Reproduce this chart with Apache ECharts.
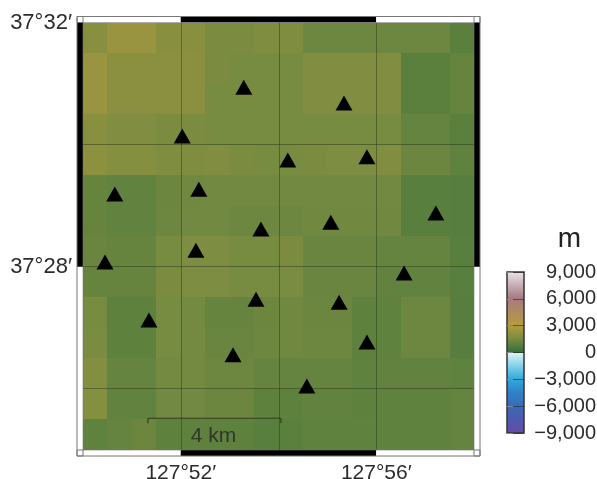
<!DOCTYPE html>
<html><head><meta charset="utf-8">
<style>html,body{margin:0;padding:0;background:#fff}#c{width:597px;height:479px}</style>
<script src="https://cdn.jsdelivr.net/npm/echarts@6/dist/echarts.min.js"></script>
</head><body><div id="c"></div>
<script>
// longitude minutes past 127°, latitude minutes past 37°
const lonStart = 50, lonEnd = 58, latStart = 25, latEnd = 32, cellSize = 0.5;
const lonLabels = [52, 56];
const latLabels = [28, 32];
const gridLons = [52, 54, 56];
const gridLats = [26, 28, 30];
// elevation per cell, north to south, west to east (m)
const row00 = [1900,2300,2300,1900,1900,1600,1600,1700,1700,1300,1300,1300,1300,1300,1300, 900];
const row01 = [2300,1950,1950,1950,1950,1600,1500,1500,1500,1750,1750,1750,1750, 900, 900,1150];
const row02 = [2300,1950,1950,1950,1950,1500,1500,1500,1500,1750,1750,1750,1750, 900, 900,1150];
const row03 = [1900,1750,1750,1600,1600,1500,1500,1500,1500,1500,1500,1500,1500,1100,1100, 900];
const row04 = [2000,1850,1850,1700,1700,1750,1600,1500,1500,1600,1650,1650,1750,1250,1250,1000];
const row05 = [1150,1050,1050,1250,1350,1400,1400,1400,1400,1400,1400,1400,1400, 850, 850, 800];
const row06 = [1150,1050,1050,1300,1400,1400,1300,1300,1300,1350,1350,1350,1350, 850, 850, 800];
const row07 = [1200,1150,1150,1500,1650,1650,1500,1500,1600,1200,1200,1200,1100,1100,1100, 850];
const row08 = [1150,1150,1150,1600,1650,1650,1500,1500,1550,1200,1200,1200,1050,1050,1050, 850];
const row09 = [1500, 950, 950,1500,1450,1150,1150,1250,1350,1250,1250, 950,1000,1300,1300, 800];
const row10 = [1550, 950, 950,1500,1450,1200,1200,1300,1350,1300,1300, 950,1000,1300,1300, 800];
const row11 = [1800,1100,1100,1450,1450,1300,1300,1100,1100,1100,1100,1000,1050,1050,1050,1000];
const row12 = [1850,1050,1050,1400,1400,1250,1250, 950, 950,1050,1050, 950,1000,1000,1000,1100];
const row13 = [1000,1100,1250, 950, 950, 950, 950, 850, 900,1000,1000,1000,1000,1000,1000,1100];
const elevationRows = [row00,row01,row02,row03,row04,row05,row06,row07,row08,row09,row10,row11,row12,row13];
// stations (lon min, lat min)
const stationLon = [53.29,55.34,52.03,54.19,55.81,50.65,52.37,57.22,55.07,53.64,52.31,50.45,56.57,53.54,55.24,51.35,55.81,53.07,54.58];
const stationLat = [30.94,30.68,30.14,29.75,29.80,29.19,29.27,28.88,28.73,28.62,28.27,28.08,27.90,27.47,27.42,27.13,26.77,26.56,26.05];
// scale bar
const scaleBarLon = [51.33, 54.05];
const scaleBarLat = 25.52;
const scaleBarLabel = '4 km';
// frame segments
const frameLonSegments = [[50,52,0],[52,56,1],[56,58,0]];
const frameLatSegments = [[25,28,0],[28,32,1]];
// colour bar
const colorbarTitle = 'm';
const landColors = ['#326f3a','#778b41','#b59c3e','#b08a60','#a67a80','#c8b0b8','#ebe7e7'];
const seaColors = ['#6a4aa8','#5058b0','#3a6ab8','#3080c8','#30a8d8','#80d0e8','#e0f5f5'];

const cellData = [];
elevationRows.forEach((row, r) => row.forEach((v, c) => {
  cellData.push([lonStart + c * cellSize, latEnd - r * cellSize, v]);
}));
const stationData = stationLon.map((x, i) => [x, stationLat[i]]);
const FONT = '"Liberation Sans", Arial, sans-serif';
const FW = 6;

function rectLine(x1,y1,x2,y2,stroke,w){
  return {type:'line',shape:{x1,y1,x2,y2},style:{stroke,lineWidth:w},silent:true};
}
const barStops = [];
landColors.forEach((c,i)=>barStops.push({offset:0.5-i/12,color:c}));
seaColors.forEach((c,i)=>barStops.push({offset:1-i/12,color:c}));
barStops.sort((a,b)=>a.offset-b.offset);

const option = {
  animation:false,
  backgroundColor:'#fff',
  grid:[
    {left:83,width:391,top:22.5,height:427.5,outerBoundsMode:'none'},
    {left:507,width:17,top:272,height:161,outerBoundsMode:'none'}
  ],
  xAxis:[
    {type:'value',gridIndex:0,min:lonStart,max:lonEnd,interval:2,
     axisLine:{show:false},axisTick:{show:false},splitLine:{show:false},
     axisLabel:{customValues:lonLabels,formatter:v=>'127°'+v+'′',fontFamily:FONT,fontSize:21,color:'#2b2b2b',margin:13}},
    {type:'value',gridIndex:1,min:0,max:1,show:false}
  ],
  yAxis:[
    {type:'value',gridIndex:0,min:latStart,max:latEnd,interval:1,
     axisLine:{show:false},axisTick:{show:false},splitLine:{show:false},
     axisLabel:{customValues:latLabels,formatter:v=>'37°'+v+'′',fontFamily:FONT,fontSize:22,color:'#2b2b2b',margin:11,padding:[7,0,0,0]}},
    {type:'value',gridIndex:1,min:-9000,max:9000,interval:3000,position:'right',z:6,
     axisLine:{show:false},
     axisTick:{show:true,length:6,lineStyle:{color:'#888',width:1}},
     splitLine:{show:true,lineStyle:{color:'rgba(30,30,30,0.55)',width:1}},
     axisLabel:{show:true,margin:72,align:'right',fontFamily:FONT,fontSize:20,color:'#2b2b2b',
       formatter:v=>(v<0?'−':'')+Math.abs(v).toLocaleString('en-US')}}
  ],
  visualMap:[{show:false,type:'continuous',seriesIndex:0,dimension:2,min:0,max:9000,inRange:{color:landColors}}],
  series:[
    {type:'custom',name:'elevation',xAxisIndex:0,yAxisIndex:0,z:1,data:cellData,
     encode:{x:0,y:1},
     renderItem(p,api){
       const a=api.coord([api.value(0),api.value(1)]);
       const b=api.coord([api.value(0)+cellSize,api.value(1)-cellSize]);
       const x0=Math.round(a[0]),y0=Math.round(a[1]),x1=Math.round(b[0]),y1=Math.round(b[1]);
       return {type:'rect',shape:{x:x0,y:y0,width:x1-x0,height:y1-y0},
               style:{fill:api.visual('color')}};
     }},
    {type:'custom',name:'graticule',xAxisIndex:0,yAxisIndex:0,z:2,data:[[0]],
     renderItem(p,api){
       const ch=[];
       const s='rgba(35,50,20,0.45)';
       gridLons.forEach(x=>{const a=api.coord([x,latStart]),b=api.coord([x,latEnd]);
         ch.push(rectLine(Math.round(a[0])+.5,a[1],Math.round(a[0])+.5,b[1],s,1));});
       gridLats.forEach(y=>{const a=api.coord([lonStart,y]),b=api.coord([lonEnd,y]);
         ch.push(rectLine(a[0],Math.floor(a[1])+.5,b[0],Math.floor(a[1])+.5,s,1));});
       return {type:'group',children:ch};
     }},
    {type:'scatter',name:'stations',xAxisIndex:0,yAxisIndex:0,z:3,data:stationData,
     symbol:'triangle',symbolSize:[17,15],itemStyle:{color:'#000',opacity:1}},
    {type:'custom',name:'scale bar',xAxisIndex:0,yAxisIndex:0,z:4,data:[[0]],
     renderItem(p,api){
       const a=api.coord([scaleBarLon[0],scaleBarLat]),b=api.coord([scaleBarLon[1],scaleBarLat]);
       const s='rgba(40,55,25,0.9)';
       return {type:'group',children:[
         rectLine(a[0],a[1],b[0],b[1],s,1.2),
         rectLine(a[0],a[1],a[0],a[1]+5,s,1.2),
         rectLine(b[0],b[1],b[0],b[1]+5,s,1.2),
         {type:'text',style:{x:(a[0]+b[0])/2-1,y:a[1]+18,text:scaleBarLabel,align:'center',verticalAlign:'middle',
           fill:'#33352d',font:'21px '+FONT}}
       ]};
     }},
    {type:'custom',name:'frame',xAxisIndex:0,yAxisIndex:0,z:5,data:[[0]],
     renderItem(p,api){
       const tl=api.coord([lonStart,latEnd]),br=api.coord([lonEnd,latStart]);
       const ch=[];
       const fills=['#fff','#000'];
       const edge='#777';
       frameLonSegments.forEach(s=>{
         const a=api.coord([s[0],latEnd]),b=api.coord([s[1],latEnd]);
         [tl[1]-FW,br[1]].forEach(y=>ch.push({type:'rect',shape:{x:a[0],y,width:b[0]-a[0],height:FW},style:{fill:fills[s[2]]}}));
       });
       frameLatSegments.forEach(s=>{
         const a=api.coord([lonStart,s[1]]),b=api.coord([lonStart,s[0]]);
         [tl[0]-FW,br[0]].forEach(x=>ch.push({type:'rect',shape:{x,y:a[1],width:FW,height:b[1]-a[1]},style:{fill:fills[s[2]]}}));
       });
       [[tl[0]-FW,tl[1]-FW],[br[0],tl[1]-FW],[tl[0]-FW,br[1]],[br[0],br[1]]].forEach(c=>
         ch.push({type:'rect',shape:{x:c[0],y:c[1],width:FW,height:FW},style:{fill:'#fff',stroke:edge,lineWidth:1}}));
       ch.push({type:'rect',shape:{x:tl[0]-FW,y:tl[1]-FW,width:br[0]-tl[0]+2*FW,height:br[1]-tl[1]+2*FW},style:{fill:'none',stroke:edge,lineWidth:1}});
       ch.push({type:'rect',shape:{x:tl[0],y:tl[1],width:br[0]-tl[0],height:br[1]-tl[1]},style:{fill:'none',stroke:edge,lineWidth:0.6}});
       return {type:'group',children:ch};
     }},
    {type:'custom',name:'colour bar',xAxisIndex:1,yAxisIndex:1,z:2,data:[[0]],
     renderItem(p,api){
       const a=api.coord([0,9000]),b=api.coord([1,-9000]);
       return {type:'group',children:[
         {type:'rect',shape:{x:a[0],y:a[1],width:b[0]-a[0],height:b[1]-a[1]},
          style:{fill:new echarts.graphic.LinearGradient(0,0,0,1,barStops.map(s=>({offset:s.offset,color:s.color}))),stroke:'#333',lineWidth:1.5}},
         {type:'text',style:{x:(a[0]+b[0])/2+54,y:a[1]-33,text:colorbarTitle,align:'center',verticalAlign:'middle',fill:'#222',font:'28px '+FONT}}
       ]};
     }}
  ]
};
const chart = echarts.init(document.getElementById('c'),null,{renderer:'canvas'});
chart.setOption(option);
</script></body></html>
